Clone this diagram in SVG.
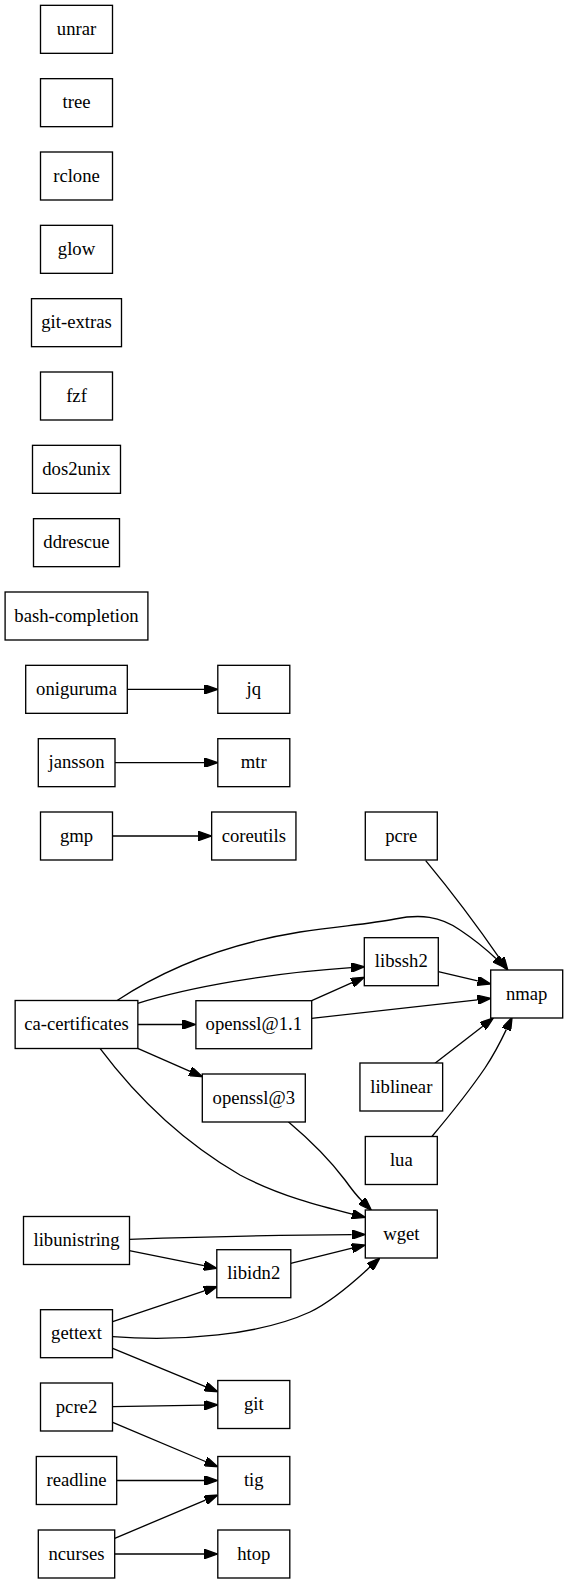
<svg xmlns="http://www.w3.org/2000/svg" width="568" height="1584" viewBox="0 0 568 1584">
<style>
.n rect{fill:#fff;stroke:#000;stroke-width:1.33}
.n text{font-family:"Liberation Serif","Times New Roman",serif;font-size:18.67px;text-anchor:middle;fill:#000}
.e path{fill:none;stroke:#000;stroke-width:1.33;marker-end:url(#ah)}
</style>
<defs>
<marker id="ah" viewBox="0 0 10 7" refX="0" refY="3.5" markerUnits="userSpaceOnUse" markerWidth="13.33" markerHeight="9.33" orient="auto">
<path d="M0,0 L10,3.5 L0,7 z" fill="#000" stroke="#000" stroke-width="1"/>
</marker>
</defs>
<rect width="568" height="1584" fill="#fff"/>
<g id="connectors" class="e">
<path d="M127.3,689.3 L204.3,689.3"/>
<path d="M115,762.7 L204.3,762.7"/>
<path d="M112.5,836 L198.3,836"/>
<path d="M425.7,860.7 C450,890 480,930 500.3,959.4"/>
<path d="M116.7,1000.7 C160,972 220,945 300,932 C340,926 370,924 395,919 C420,914 440,916 460,930 C475,940 487,950 495.9,958.6"/>
<path d="M137.7,1003.3 C190,987 270,973 351.1,967.6"/>
<path d="M311.7,1000.7 L352.1,982.7"/>
<path d="M438.3,971.7 L477.7,980.9"/>
<path d="M311.7,1018.3 L477.45,999.8"/>
<path d="M137.7,1024.5 L182.4,1024.5"/>
<path d="M137.7,1048.3 L190.1,1071.3"/>
<path d="M100,1048.3 C135,1095 180,1140 240,1175 C280,1196 320,1206 352.35,1214.1"/>
<path d="M288.3,1121.7 C310,1140 330,1160 345,1180 C350,1187 356,1195 361.95,1200.9"/>
<path d="M129.3,1239.3 C200,1237 280,1235 351.7,1234.6"/>
<path d="M129.3,1250.7 L203.9,1265.7"/>
<path d="M290.7,1263.3 L352.05,1248.2"/>
<path d="M112.7,1321.7 L204.35,1290.9"/>
<path d="M112.7,1336.7 C180,1342 260,1335 310,1312 C335,1300 358,1278 369.96,1267.1"/>
<path d="M112.7,1348.3 L205.4,1386.6"/>
<path d="M112.7,1406.7 L204.4,1405.2"/>
<path d="M112.7,1422.3 L205.4,1461.5"/>
<path d="M116.7,1480.5 L204.4,1480.5"/>
<path d="M114.7,1538.3 L205.4,1500.2"/>
<path d="M114.7,1554 L204.4,1554"/>
<path d="M435,1063.3 L482.8,1026.2"/>
<path d="M431.7,1136.7 C450,1115 470,1090 485,1068 C493,1056 500,1043 506.4,1029.4"/>
</g>
<g id="unrar" class="n"><rect x="40.5" y="5.33" width="72" height="48"/><text x="76.5" y="34.93">unrar</text></g>
<g id="tree" class="n"><rect x="40.5" y="78.67" width="72" height="48"/><text x="76.5" y="108.27">tree</text></g>
<g id="rclone" class="n"><rect x="40.5" y="152" width="72" height="48"/><text x="76.5" y="181.6">rclone</text></g>
<g id="glow" class="n"><rect x="40.5" y="225.33" width="72" height="48"/><text x="76.5" y="254.93">glow</text></g>
<g id="git-extras" class="n"><rect x="31.5" y="298.67" width="90" height="48"/><text x="76.5" y="328.27">git-extras</text></g>
<g id="fzf" class="n"><rect x="40.5" y="372" width="72" height="48"/><text x="76.5" y="401.6">fzf</text></g>
<g id="dos2unix" class="n"><rect x="32.5" y="445.33" width="88" height="48"/><text x="76.5" y="474.93">dos2unix</text></g>
<g id="ddrescue" class="n"><rect x="33.5" y="518.67" width="86" height="48"/><text x="76.5" y="548.27">ddrescue</text></g>
<g id="bash-completion" class="n"><rect x="5.1" y="592" width="142.8" height="48"/><text x="76.5" y="621.6">bash-completion</text></g>
<g id="oniguruma" class="n"><rect x="25.7" y="665.33" width="101.6" height="48"/><text x="76.5" y="694.93">oniguruma</text></g>
<g id="jq" class="n"><rect x="217.8" y="665.33" width="72" height="48"/><text x="253.8" y="694.93">jq</text></g>
<g id="jansson" class="n"><rect x="38.3" y="738.67" width="76.7" height="48"/><text x="76.5" y="768.27">jansson</text></g>
<g id="mtr" class="n"><rect x="217.8" y="738.67" width="72" height="48"/><text x="253.8" y="768.27">mtr</text></g>
<g id="gmp" class="n"><rect x="40.5" y="812" width="72" height="48"/><text x="76.5" y="841.6">gmp</text></g>
<g id="coreutils" class="n"><rect x="211.65" y="812" width="84.3" height="48"/><text x="253.8" y="841.6">coreutils</text></g>
<g id="pcre" class="n"><rect x="365.3" y="812" width="72" height="48"/><text x="401.3" y="841.6">pcre</text></g>
<g id="libssh2" class="n"><rect x="364.3" y="937.7" width="74" height="48"/><text x="401.3" y="967.3">libssh2</text></g>
<g id="nmap" class="n"><rect x="490.7" y="970" width="72" height="48"/><text x="526.7" y="999.6">nmap</text></g>
<g id="ca-certificates" class="n"><rect x="15.15" y="1000.5" width="122.7" height="48"/><text x="76.5" y="1030.1">ca-certificates</text></g>
<g id="openssl-1.1" class="n"><rect x="195.9" y="1000.7" width="115.8" height="48"/><text x="253.8" y="1030.3">openssl@1.1</text></g>
<g id="liblinear" class="n"><rect x="359.95" y="1063" width="82.7" height="48"/><text x="401.3" y="1092.6">liblinear</text></g>
<g id="openssl-3" class="n"><rect x="202.3" y="1074" width="103" height="48"/><text x="253.8" y="1103.6">openssl@3</text></g>
<g id="lua" class="n"><rect x="365.3" y="1136.5" width="72" height="48"/><text x="401.3" y="1166.1">lua</text></g>
<g id="wget" class="n"><rect x="365.3" y="1210" width="72" height="48"/><text x="401.3" y="1239.6">wget</text></g>
<g id="libunistring" class="n"><rect x="23.5" y="1216.5" width="106" height="48"/><text x="76.5" y="1246.1">libunistring</text></g>
<g id="libidn2" class="n"><rect x="216.8" y="1249.7" width="74" height="48"/><text x="253.8" y="1279.3">libidn2</text></g>
<g id="gettext" class="n"><rect x="40.5" y="1309.7" width="72" height="48"/><text x="76.5" y="1339.3">gettext</text></g>
<g id="git" class="n"><rect x="217.8" y="1380.5" width="72" height="48"/><text x="253.8" y="1410.1">git</text></g>
<g id="pcre2" class="n"><rect x="40.5" y="1383" width="72" height="48"/><text x="76.5" y="1412.6">pcre2</text></g>
<g id="readline" class="n"><rect x="36.3" y="1456.5" width="80.4" height="48"/><text x="76.5" y="1486.1">readline</text></g>
<g id="tig" class="n"><rect x="217.8" y="1456.5" width="72" height="48"/><text x="253.8" y="1486.1">tig</text></g>
<g id="ncurses" class="n"><rect x="38.3" y="1530" width="76.4" height="48"/><text x="76.5" y="1559.6">ncurses</text></g>
<g id="htop" class="n"><rect x="217.8" y="1530" width="72" height="48"/><text x="253.8" y="1559.6">htop</text></g>
</svg>
